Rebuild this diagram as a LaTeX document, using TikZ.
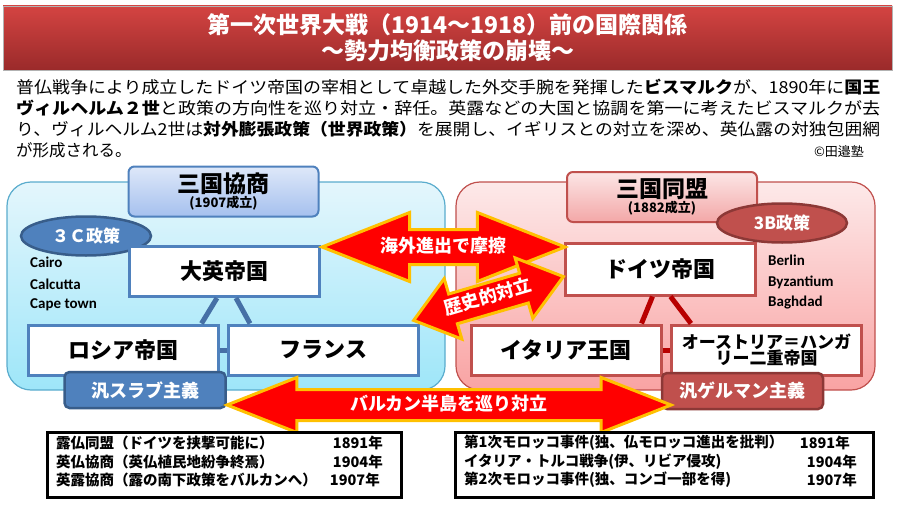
\documentclass[tikz,border=0pt]{standalone}
\usepackage{fontspec}
\setmainfont{Noto Sans CJK JP}
\newfontfamily\latinfont{Carlito}
\usetikzlibrary{positioning, calc, shapes.geometric, shapes.arrows}
\definecolor{myblue}{HTML}{4F81BD}
\definecolor{mydarkblue}{HTML}{385D8A}
\definecolor{myred}{HTML}{C0504D}
\definecolor{mydarkred}{HTML}{8C3836}
\definecolor{myorange}{HTML}{FFC000}
\definecolor{linkblue}{HTML}{4670A6}
\definecolor{linkred}{HTML}{B80000}
\newcommand{\fsize}[1]{\fontsize{#1}{#1}\selectfont}
\tikzset{
	bannernode/.style={
			shape=rectangle,
			draw=black!30,
			top color={rgb,255:red,212;green,68;blue,66},
			bottom color={rgb,255:red,154;green,42;blue,42},
			minimum width=889,
			minimum height=64,
			inner sep=0pt,
			align=center,
			text=white,
			font=\fsize{23}\bfseries
		},
	groupnode/.style={
			shape=rectangle,
			rounded corners=24pt,
			line width=1.2pt,
			minimum height=208,
			inner sep=0pt
		},
	bluegroup/.style={
			groupnode,
			draw={rgb,255:red,90;green,172;blue,205},
			top color={rgb,255:red,228;green,246;blue,252},
			bottom color={rgb,255:red,158;green,230;blue,249}
		},
	redgroup/.style={
			groupnode,
			draw=myred,
			top color={rgb,255:red,253;green,233;blue,233},
			bottom color={rgb,255:red,249;green,163;blue,163}
		}
}
\tikzset{
	headnode/.style={
			shape=rectangle,
			rounded corners=6pt,
			line width=2pt,
			minimum width=190,
			minimum height=50,
			inner sep=0pt,
			align=center
		},
	bluehead/.style={
			headnode,
			draw=myblue,
			top color={rgb,255:red,222;green,232;blue,249},
			bottom color={rgb,255:red,165;green,192;blue,238}
		},
	redhead/.style={
			headnode,
			draw=myred,
			top color={rgb,255:red,252;green,230;blue,230},
			bottom color={rgb,255:red,243;green,167;blue,167}
		},
	statenode/.style={
			shape=rectangle,
			fill=white,
			line width=3pt,
			minimum width=190,
			minimum height=50,
			inner sep=0pt,
			font=\fsize{22}\bfseries
		},
	bluestate/.style={
			statenode,
			draw=myblue
		},
	redstate/.style={
			statenode,
			draw=myred
		},
	policynode/.style={
			shape=ellipse,
			line width=2.5pt,
			minimum width=130,
			minimum height=39,
			inner sep=0pt,
			text=white,
			font=\fsize{17}\bfseries
		},
	ismnode/.style={
			shape=rectangle,
			rounded corners=5pt,
			line width=2.5pt,
			minimum width=161,
			minimum height=36,
			inner sep=0pt,
			text=white,
			font=\fsize{18}\bfseries
		},
	clasharrow/.style={
			double arrow,
			fill=red,
			draw=myorange,
			line width=3pt,
			text=white,
			font=\fsize{18}\bfseries,
			text height=13pt,
			text depth=3pt,
			inner xsep=0pt
		},
	listnode/.style={
			shape=rectangle,
			draw=black,
			line width=3pt,
			fill=white,
			minimum height=65,
			inner sep=0pt
		},
	listtext/.style={font=\fsize{14.5}\bfseries, inner sep=0pt},
	citytext/.style={font=\latinfont\fsize{15}\bfseries, inner sep=0pt, anchor=west},
	paratext/.style={font=\fsize{16.5}, inner sep=0pt, anchor=west},
	linkline/.style={line width=5pt}
}

\begin{document}
\begin{tikzpicture}[x=1pt, y=-1pt]
\useasboundingbox (0,0) rectangle (897,511);

% title
\node[bannernode] (banner) at (447.5,38) {第一次世界大戦（1914～1918）前の国際関係\\[3pt]～勢力均衡政策の崩壊～};

\node[paratext] (p1) at (16,87) {\resizebox{864pt}{\height}{普仏戦争により成立したドイツ帝国の宰相として卓越した外交手腕を発揮した\textbf{ビスマルク}が、1890年に\textbf{国王}}};
\node[paratext] (p2) at (16,108) {\resizebox{864pt}{\height}{\textbf{ヴィルヘルム２世}と政策の方向性を巡り対立・辞任。英露などの大国と協調を第一に考えたビスマルクが去}};
\node[paratext] (p3) at (16,129) {\resizebox{864pt}{\height}{り、ヴィルヘルム2世は\textbf{対外膨張政策（世界政策）}を展開し、イギリスとの対立を深め、英仏露の対独包囲網}};
\node[paratext] (p4) at (16,150) {が形成される。};
\node[font=\fsize{13}, inner sep=0pt] (copy) at (839,152) {©田邉塾};

% groups
\node[bluegroup, minimum width=438] (entente) at (226,286) {};
\node[redgroup, minimum width=419] (alliance) at (665.5,286) {};

\node[bluehead] (h1) at (223.5,191.5) {{\fsize{23}\bfseries 三国協商}\\[1pt]{\fsize{13}\bfseries (1907成立)}};
\node[redhead] (h2) at (662,197) {{\fsize{23}\bfseries 三国同盟}\\[1pt]{\fsize{13}\bfseries (1882成立)}};

\node[policynode, fill=myblue, draw=mydarkblue] (p3c) at (86,236) {３Ｃ政策};
\node[policynode, fill=myred, draw=mydarkred] (p3b) at (782,223) {3B政策};

\node[citytext] (c1) at (30,262) {Cairo};
\node[citytext] (c2) at (30,284) {Calcutta};
\node[citytext] (c3) at (30,305) {Cape town};
\node[citytext] (c4) at (768,260) {Berlin};
\node[citytext] (c5) at (768,282) {Byzantium};
\node[citytext] (c6) at (768,303) {Baghdad};

% states
\node[bluestate] (uk) at (224,271.5) {大英帝国};
\node[bluestate] (russia) at (123,350) {ロシア帝国};
\node[bluestate] (france) at (323.5,350) {フランス};
\node[redstate, minimum height=52] (germany) at (660.5,269) {ドイツ帝国};
\node[redstate] (italy) at (566,350) {イタリア王国};
\node[redstate, font=\fsize{17}\bfseries, align=center] (austria) at (766.5,350) {オーストリア＝ハンガ\\[-1pt]リー二重帝国};

\draw[linkline, linkblue] ($(uk.south)+(-7,0)$) -- ($(russia.north east)+(-18,0)$);
\draw[linkline, linkblue] ($(uk.south)+(12,0)$) -- ($(france.north west)+(23,0)$);
\draw[linkline, linkblue] (russia.east) -- (france.west);
\draw[linkline, linkred] ($(germany.south)+(-8,0)$) -- ($(italy.north east)+(-21,0)$);
\draw[linkline, linkred] ($(germany.south)+(10,0)$) -- ($(austria.north west)+(21,0)$);
\draw[linkline, linkred] (italy.east) -- (austria.west);

\node[ismnode, fill=myblue, draw=mydarkblue] (slav) at (145,390) {汎スラブ主義};
\node[ismnode, fill=myred, draw=mydarkred] (german) at (742.5,391) {汎ゲルマン主義};

% arrows
\node[clasharrow, minimum height=243, double arrow tip angle=43, double arrow head extend=17, inner ysep=8pt] (a1) at (443.5,247) {\makebox[0pt]{海外進出で摩擦}};
\node[clasharrow, minimum height=156, double arrow tip angle=75, double arrow head extend=16, inner ysep=6pt, rotate=16.3] (a2) at (488.5,298.5) {\makebox[0pt]{歴史的対立}};
\node[clasharrow, minimum height=444, double arrow tip angle=43, double arrow head extend=12, inner ysep=6pt] (a3) at (449,405) {\makebox[0pt]{バルカン半島を巡り対立}};

% lists
\node[listnode, minimum width=354] (list1) at (224,464.5) {};
\node[listnode, minimum width=418] (list2) at (664,464.5) {};

\node[listtext, anchor=west] (l1) at (56,443) {露仏同盟（ドイツを挟撃可能に）};
\node[listtext, anchor=west] (l2) at (56,462) {英仏協商（英仏植民地紛争終焉）};
\node[listtext, anchor=west] (l3) at (56,480) {英露協商（露の南下政策をバルカンへ）};
\node[listtext, anchor=east] (y1) at (383,443) {1891年};
\node[listtext, anchor=east] (y2) at (383,462) {1904年};
\node[listtext, anchor=east] (y3) at (380,480) {1907年};

\node[listtext, anchor=west] (l4) at (464,443) {第1次モロッコ事件(独、仏モロッコ進出を批判）};
\node[listtext, anchor=west] (l5) at (464,462) {イタリア・トルコ戦争(伊、リビア侵攻)};
\node[listtext, anchor=west] (l6) at (464,480) {第2次モロッコ事件(独、コンゴ一部を得)};
\node[listtext, anchor=east] (y4) at (850,443) {1891年};
\node[listtext, anchor=east] (y5) at (857,462) {1904年};
\node[listtext, anchor=east] (y6) at (857,480) {1907年};

\end{tikzpicture}
\end{document}
